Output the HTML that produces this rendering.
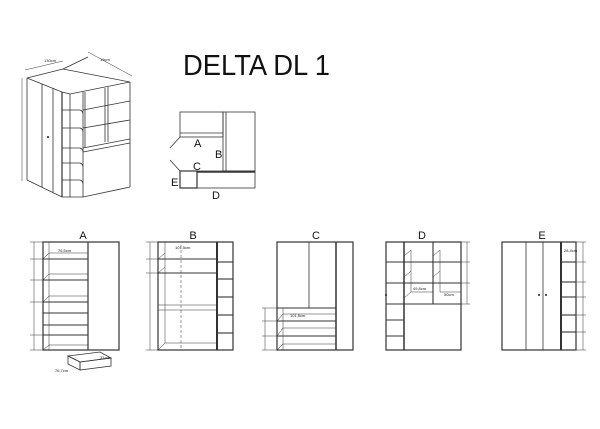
<!DOCTYPE html>
<html><head><meta charset="utf-8"><style>
html,body{margin:0;padding:0;background:#fff;}
svg{display:block;font-family:"Liberation Sans",sans-serif;}
</style></head><body>
<svg width="600" height="429" viewBox="0 0 600 429" xmlns="http://www.w3.org/2000/svg">
<rect width="600" height="429" fill="#fff"/>
<g fill="none" stroke="#333" stroke-width="0.8">
<polyline points="27,78 63,69 130,82"/>
<polyline points="63,69 88,57"/>
<line x1="27" y1="78" x2="27" y2="180"/>
<polyline points="27,78 62,92 70,94 130,82"/>
<line x1="130" y1="82" x2="130" y2="187"/>
<polyline points="27,180 62,197 83,197 130,187"/>
<line x1="42" y1="84" x2="42" y2="187"/>
<line x1="53" y1="88" x2="53" y2="192"/>
<line x1="62" y1="92" x2="62" y2="197" stroke-width="1.2"/>
<line x1="83" y1="92" x2="83" y2="197"/>
<line x1="70" y1="94" x2="70" y2="197"/>
<line x1="85" y1="92" x2="85" y2="148"/>
<line x1="105" y1="88" x2="105" y2="142"/>
<line x1="108" y1="87" x2="108" y2="142"/>
<line x1="83" y1="148" x2="130" y2="139"/>
<line x1="83" y1="152" x2="130" y2="143"/>
<path d="M62,110 H80 Q83,111 83,114"/><path d="M62,128 H80 Q83,129 83,132"/><path d="M62,148 H80 Q83,149 83,152"/><path d="M62,163 H80 Q83,164 83,167"/><path d="M62,180 H80 Q83,181 83,184"/>
<line x1="83" y1="110" x2="130" y2="101"/><line x1="83" y1="128" x2="130" y2="120"/>
<line x1="22" y1="78" x2="22" y2="181" stroke-width="0.5"/>
<line x1="25" y1="70" x2="63" y2="61" stroke-width="0.5"/>
<line x1="88" y1="52" x2="132" y2="76" stroke-width="0.5"/>
<rect x="180" y="112" width="43" height="25"/>
<line x1="180" y1="133" x2="223" y2="133"/>
<rect x="223" y="112" width="32" height="59"/>
<line x1="226" y1="112" x2="226" y2="171"/>
<rect x="180" y="171" width="17" height="17" stroke-width="1.2"/>
<rect x="197" y="171" width="58" height="17"/>
<line x1="197" y1="172" x2="255" y2="172" stroke-width="1.5"/>
<line x1="180" y1="137" x2="170" y2="148"/><line x1="180" y1="171" x2="170" y2="160"/>
<rect x="43" y="242" width="76" height="108" stroke-width="1.2"/>
<line x1="88" y1="242" x2="88" y2="350" stroke-width="1.2"/>
<g stroke-width="1.1"><line x1="43" y1="259" x2="88" y2="259"/><line x1="43" y1="280" x2="88" y2="280"/><line x1="43" y1="302" x2="88" y2="302"/><line x1="43" y1="313" x2="88" y2="313"/><line x1="43" y1="325" x2="88" y2="325"/><line x1="43" y1="335" x2="88" y2="335"/></g>
<g stroke-width="0.5"><line x1="49" y1="242" x2="49" y2="350"/><line x1="49" y1="253" x2="88" y2="253"/><line x1="49" y1="274" x2="88" y2="274"/><line x1="49" y1="296" x2="88" y2="296"/><line x1="49" y1="345" x2="88" y2="345"/>
<line x1="43" y1="259" x2="49" y2="253"/><line x1="43" y1="280" x2="49" y2="274"/><line x1="43" y1="302" x2="49" y2="296"/><line x1="43" y1="350" x2="49" y2="345"/>
<line x1="34" y1="242" x2="34" y2="350"/><line x1="30" y1="242" x2="43" y2="242"/><line x1="30" y1="259" x2="43" y2="259"/><line x1="30" y1="280" x2="43" y2="280"/><line x1="30" y1="302" x2="43" y2="302"/><line x1="30" y1="335" x2="43" y2="335"/><line x1="30" y1="350" x2="43" y2="350"/></g>
<polygon points="68,356 100,352 111,358 80,362"/>
<polygon points="68,356 80,362 80,370 68,364"/>
<polygon points="80,362 111,358 111,366 80,370"/>
<rect x="158" y="242" width="75" height="108" stroke-width="1.2"/>
<line x1="217" y1="242" x2="217" y2="350" stroke-width="2"/>
<g stroke-width="1.1"><line x1="158" y1="259" x2="217" y2="259"/><line x1="158" y1="273" x2="217" y2="273"/><line x1="217" y1="262" x2="233" y2="262"/><line x1="217" y1="279" x2="233" y2="279"/><line x1="217" y1="297" x2="233" y2="297"/><line x1="217" y1="315" x2="233" y2="315"/><line x1="217" y1="333" x2="233" y2="333"/></g>
<g stroke-width="0.5"><line x1="158" y1="305" x2="217" y2="305"/><line x1="158" y1="310" x2="217" y2="310"/><line x1="165" y1="242" x2="165" y2="343"/><line x1="165" y1="343" x2="217" y2="343"/><line x1="158" y1="350" x2="165" y2="343"/><line x1="158" y1="259" x2="165" y2="253"/><line x1="158" y1="273" x2="165" y2="267"/>
<line x1="181" y1="245" x2="181" y2="350" stroke-dasharray="3,2"/>
<line x1="150" y1="242" x2="150" y2="350"/><line x1="146" y1="242" x2="158" y2="242"/><line x1="146" y1="259" x2="158" y2="259"/><line x1="146" y1="273" x2="158" y2="273"/><line x1="146" y1="350" x2="158" y2="350"/></g>
<rect x="277" y="242" width="76" height="108" stroke-width="1.2"/>
<line x1="336" y1="242" x2="336" y2="350" stroke-width="1.5"/>
<line x1="309" y1="242" x2="309" y2="308" stroke-width="0.8"/>
<g stroke-width="1.1"><line x1="277" y1="308" x2="336" y2="308"/><line x1="277" y1="321" x2="336" y2="321"/><line x1="277" y1="336" x2="336" y2="336"/></g>
<g stroke-width="0.5"><line x1="283" y1="308" x2="283" y2="350"/><line x1="283" y1="314" x2="336" y2="314"/><line x1="283" y1="328" x2="336" y2="328"/><line x1="283" y1="344" x2="336" y2="344"/><line x1="277" y1="321" x2="283" y2="314"/><line x1="277" y1="336" x2="283" y2="328"/><line x1="277" y1="350" x2="283" y2="344"/>
<line x1="262" y1="308" x2="277" y2="308"/><line x1="262" y1="321" x2="277" y2="321"/><line x1="262" y1="336" x2="277" y2="336"/><line x1="262" y1="350" x2="277" y2="350"/><line x1="265" y1="308" x2="265" y2="350"/></g>
<rect x="386" y="242" width="75" height="108" stroke-width="1.2"/>
<line x1="404" y1="242" x2="404" y2="350" stroke-width="1.5"/>
<line x1="433" y1="242" x2="433" y2="304" stroke-width="1.1"/>
<g stroke-width="1.1"><line x1="386" y1="262" x2="461" y2="262"/><line x1="386" y1="283" x2="461" y2="283"/><line x1="386" y1="304" x2="461" y2="304"/><line x1="386" y1="320" x2="404" y2="320"/><line x1="386" y1="336" x2="404" y2="336"/></g>
<g stroke-width="0.5"><line x1="404" y1="256" x2="411" y2="250"/><line x1="433" y1="256" x2="440" y2="250"/><line x1="404" y1="277" x2="411" y2="271"/><line x1="433" y1="277" x2="440" y2="271"/><line x1="404" y1="298" x2="411" y2="292"/><line x1="411" y1="250" x2="411" y2="292"/><line x1="440" y1="250" x2="440" y2="292"/><line x1="411" y1="292" x2="433" y2="292"/><line x1="440" y1="292" x2="461" y2="292"/>
<line x1="461" y1="242" x2="470" y2="242"/><line x1="461" y1="262" x2="470" y2="262"/><line x1="461" y1="283" x2="470" y2="283"/><line x1="461" y1="304" x2="470" y2="304"/><line x1="467" y1="242" x2="467" y2="304"/></g>
<rect x="502" y="242" width="74" height="108" stroke-width="1.2"/>
<line x1="526" y1="242" x2="526" y2="350"/><line x1="543" y1="242" x2="543" y2="350"/>
<line x1="561" y1="242" x2="561" y2="350" stroke-width="2"/>
<g stroke-width="1.1"><line x1="561" y1="262" x2="576" y2="262"/><line x1="561" y1="282" x2="576" y2="282"/><line x1="561" y1="297" x2="576" y2="297"/><line x1="561" y1="315" x2="576" y2="315"/><line x1="561" y1="332" x2="576" y2="332"/></g>
<g stroke-width="0.5"><line x1="576" y1="242" x2="586" y2="242"/><line x1="576" y1="262" x2="586" y2="262"/><line x1="576" y1="282" x2="586" y2="282"/><line x1="576" y1="297" x2="586" y2="297"/><line x1="576" y1="315" x2="586" y2="315"/><line x1="576" y1="332" x2="586" y2="332"/><line x1="576" y1="350" x2="586" y2="350"/><line x1="583" y1="242" x2="583" y2="350"/></g>
</g>
<g fill="#222"><circle cx="48" cy="137" r="1"/><circle cx="386" cy="295" r="1"/><circle cx="539" cy="295" r="1"/><circle cx="546" cy="295" r="1"/></g>
<text x="183" y="75" font-size="29" fill="#111" textLength="147" lengthAdjust="spacingAndGlyphs">DELTA DL 1</text>
<g font-size="11" fill="#111">
<text x="194" y="147">A</text><text x="215" y="158">B</text><text x="193" y="170">C</text><text x="212" y="199">D</text><text x="171" y="186">E</text>
</g>
<g font-size="11" fill="#111" text-anchor="middle">
<text x="83" y="239">A</text><text x="193" y="239">B</text><text x="316" y="239">C</text><text x="422" y="239">D</text><text x="542" y="239">E</text>
</g>
<g font-size="4" fill="#222">
<text x="58" y="252">76,5cm</text><text x="175" y="249">101,5cm</text><text x="290" y="317">101,5cm</text><text x="413" y="290">49,8cm</text><text x="444" y="296">50cm</text><text x="564" y="252">28,4cm</text>
<text x="55" y="372">76,7cm</text><text x="100" y="359">31cm</text><text x="44" y="62">130cm</text><text x="100" y="61">19cm</text>
</g>
</svg>
</body></html>
